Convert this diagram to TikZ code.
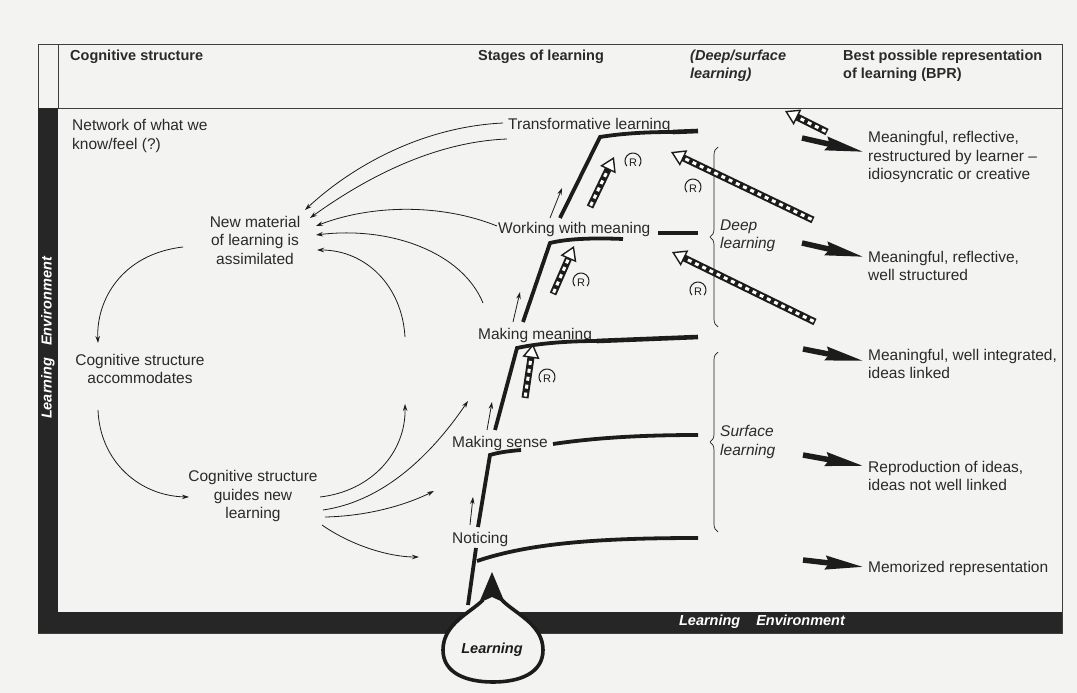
\documentclass[tikz,border=0pt]{standalone}
\usepackage{fontspec}
\setmainfont{Liberation Sans}
\usetikzlibrary{arrows.meta,calc,decorations.pathreplacing}
\definecolor{paper}{RGB}{243,243,241}
\definecolor{ink}{RGB}{28,28,28}
\definecolor{txt}{RGB}{42,42,42}
\definecolor{barc}{RGB}{38,38,38}
\tikzset{
  lbl/.style={font=\fontsize{15.5}{18.5}\selectfont, text=txt, inner sep=0pt, align=left},
  lblc/.style={lbl, align=center},
  hd/.style={font=\fontsize{14.5}{18}\selectfont\bfseries, text=txt, inner sep=0pt, align=left, anchor=west},
  hdi/.style={font=\fontsize{14.5}{18}\selectfont\bfseries\itshape, text=txt, inner sep=0pt, align=left, anchor=west},
  barlbl/.style={font=\fontsize{14.5}{17}\selectfont\bfseries\itshape, text=white, inner sep=0pt},
  frameline/.style={draw=ink!85, line width=1pt},
  stageline/.style={draw=ink, line width=3.8pt},
  stagetail/.style={draw=ink, line width=4.6pt},
  tarrow/.style={draw=ink, line width=0.8pt, -{Stealth[length=7pt,width=4.5pt]}},
  barrow/.style={draw=ink, line width=5.5pt, -{Stealth[length=38pt,width=13pt,inset=3pt]}},
  harrow/.style={draw=ink, line width=7pt, -{Triangle[fill=white,length=14pt,width=17pt,line width=1.4pt]},
     postaction={draw=white, line width=3pt, dash pattern=on 4pt off 4pt, shorten >=15pt, shorten <=1.5pt, -}},
  bracestyle/.style={draw=ink, line width=0.7pt, decorate, decoration={brace, amplitude=8pt}},
  rmark/.pic={
    \node[font=\fontsize{11}{11}\selectfont, text=ink, inner sep=0pt] (-r) at (0,1.5) {R};
    \draw[ink, line width=1pt] (-40:8pt) arc[start angle=-40, end angle=220, radius=8pt];
  }
}
\begin{document}
\begin{tikzpicture}[x=1pt,y=-1pt]
\fill[paper] (0,0) rectangle (1077,693);
\useasboundingbox (0,0) rectangle (1077,693);

% frame and bars
\draw[frameline] (38,45) rectangle (1062,633);
\draw[frameline] (38,108) -- (1062,108);
\draw[frameline] (58,45) -- (58,108);
\fill[barc] (38,108) rectangle (58,633);
\fill[barc] (38,612) rectangle (1062,633);
\node[barlbl, rotate=90] (envleft) at (48,338) {Learning\hspace{12pt}Environment};
\node[barlbl] (envbottom) at (762,622) {Learning\hspace{16pt}Environment};

% header
\node[hd] (hcog) at (70,57) {Cognitive structure};
\node[hd] (hstage) at (478,57) {Stages of learning};
\node[hdi] (hdeep) at (690,66) {(Deep/surface\\learning)};
\node[hd] (hbpr) at (843,66) {Best possible representation\\of learning (BPR)};

% cognitive structure texts
\node[lbl, anchor=west] (net) at (72,136) {Network of what we\\know/feel (?)};
\node[lblc] (newmat) at (255,240) {New material\\of learning is\\assimilated};
\node[lblc] (accom) at (140,369) {Cognitive structure\\accommodates};
\node[lblc] (guides) at (253,496) {Cognitive structure\\guides new\\learning};

% stage labels
\node[lbl, anchor=west] (trans) at (508,125) {Transformative learning};
\node[lbl, anchor=west] (work) at (498,229) {Working with meaning};
\node[lbl, anchor=west] (makm) at (478,335) {Making meaning};
\node[lbl, anchor=west] (maks) at (452,443) {Making sense};
\node[lbl, anchor=west] (notic) at (452,539) {Noticing};

% deep / surface
\node[lbl, anchor=west, font=\fontsize{15.5}{18.5}\selectfont\itshape] (deep) at (720,236) {Deep\\learning};
\node[lbl, anchor=west, font=\fontsize{15.5}{18.5}\selectfont\itshape] (surf) at (720,442) {Surface\\learning};
\draw[bracestyle] (718,327) -- (718,147);
\draw[bracestyle] (718,532) -- (718,352);

% BPR texts
\node[lbl, anchor=west] (b1) at (868,157) {Meaningful, reflective,\\restructured by learner --\\idiosyncratic or creative};
\node[lbl, anchor=west] (b2) at (868,266) {Meaningful, reflective,\\well structured};
\node[lbl, anchor=west] (b3) at (868,364) {Meaningful, well integrated,\\ideas linked};
\node[lbl, anchor=west] (b4) at (868,476) {Reproduction of ideas,\\ideas not well linked};
\node[lbl, anchor=west] (b5) at (868,568) {Memorized representation};

% BPR arrows
\coordinate (p1) at (802,138); \coordinate (q1) at (864,152);
\coordinate (p2) at (802,243); \coordinate (q2) at (864,257);
\coordinate (p3) at (803,349); \coordinate (q3) at (864,361);
\coordinate (p4) at (803,455); \coordinate (q4) at (864,466);
\coordinate (p5) at (803,560); \coordinate (q5) at (864,567);
\foreach \i in {1,...,5} {\draw[barrow] (p\i) -- (q\i);}

% stage lines
\draw[stageline] (468,605) -- (476,548);
\draw[stageline] (477,561) .. controls (530,543) and (600,538) .. (698,538);
\draw[stageline] (478,527) -- (490,455) .. controls (500,452) and (510,451) .. (521,450);
\draw[stageline] (553,444) .. controls (600,437) and (650,435) .. (698,435);
\draw[stageline] (495,430) -- (517,348) .. controls (540,343) and (570,341) .. (597,341);
\draw[stagetail] (597,341) -- (698,337);
\draw[stageline] (523,322) -- (550,243) .. controls (570,238) and (600,238) .. (623,239);
\draw[stagetail] (658,233) -- (698,233);
\draw[stageline] (560,218) -- (600,137) .. controls (625,133) and (650,132) .. (673,132);
\draw[stagetail] (673,132) -- (698,131);

% small up arrows along stages
\coordinate (u1s) at (470,525); \coordinate (u1e) at (473,497);
\coordinate (u2s) at (487,430); \coordinate (u2e) at (492,402);
\coordinate (u3s) at (513,322); \coordinate (u3e) at (520,292);
\coordinate (u4s) at (550,218); \coordinate (u4e) at (562,188);
\foreach \i in {1,...,4} {\draw[tarrow] (u\i s) -- (u\i e);}

% hollow dashed arrows
\coordinate (h1s) at (827,132); \coordinate (h1e) at (785,111);
\coordinate (h2s) at (813,220); \coordinate (h2e) at (671,152);
\coordinate (h3s) at (815,322); \coordinate (h3e) at (672,252);
\coordinate (h4s) at (590,207); \coordinate (h4e) at (614,157);
\coordinate (h5s) at (553,294); \coordinate (h5e) at (574,246);
\coordinate (h6s) at (525,398); \coordinate (h6e) at (533,344);
\foreach \i in {1,...,6} {\draw[harrow] (h\i s) -- (h\i e);}

% R marks
\pic (r1) at (633,161) {rmark};
\pic (r2) at (693,187) {rmark};
\pic (r3) at (581,281) {rmark};
\pic (r4) at (698,290) {rmark};
\pic (r5) at (547,377) {rmark};

% arrows into "New material"
\coordinate (a1s) at (503,123); \coordinate (a1e) at (305,210);
\coordinate (a2s) at (507,139); \coordinate (a2e) at (310,218);
\coordinate (a3s) at (497,226); \coordinate (a3e) at (316,226);
\coordinate (a4s) at (483,303); \coordinate (a4e) at (316,235);
\coordinate (a5s) at (405,337); \coordinate (a5e) at (317,250);
\draw[tarrow] (a1s) .. controls (420,127) and (350,168) .. (a1e);
\draw[tarrow] (a2s) .. controls (430,142) and (360,182) .. (a2e);
\draw[tarrow] (a3s) .. controls (440,203) and (370,205) .. (a3e);
\draw[tarrow] (a4s) .. controls (462,252) and (390,226) .. (a4e);
\draw[tarrow] (a5s) .. controls (402,285) and (365,250) .. (a5e);

% cycle on the left
\coordinate (l1s) at (183,247); \coordinate (l1e) at (98,343);
\coordinate (l2s) at (98,410); \coordinate (l2e) at (189,497);
\draw[tarrow] (l1s) .. controls (122,254) and (96,300) .. (l1e);
\draw[tarrow] (l2s) .. controls (100,462) and (140,496) .. (l2e);

% arrows out of "guides"
\coordinate (g1s) at (320,497); \coordinate (g1e) at (405,404);
\coordinate (g2s) at (323,510); \coordinate (g2e) at (468,401);
\coordinate (g3s) at (325,517); \coordinate (g3e) at (434,491);
\coordinate (g4s) at (322,525); \coordinate (g4e) at (419,557);
\draw[tarrow] (g1s) .. controls (372,491) and (406,452) .. (g1e);
\draw[tarrow] (g2s) .. controls (392,500) and (440,442) .. (g2e);
\draw[tarrow] (g3s) .. controls (372,516) and (410,503) .. (g3e);
\draw[tarrow] (g4s) .. controls (352,546) and (390,557) .. (g4e);

% learning droplet
\draw[ink, line width=3.6pt, fill=paper] (483,600) .. controls (470,613) and (443,624) .. (443,650)
  .. controls (443,673) and (466,682) .. (493,682) .. controls (520,682) and (543,673) .. (543,650)
  .. controls (543,624) and (514,613) .. (502,600);
\fill[ink] (492,572) -- (505,603) -- (492,597) -- (479,603) -- cycle;
\node[barlbl, text=ink] (learn) at (492,650) {Learning};
\end{tikzpicture}
\end{document}
